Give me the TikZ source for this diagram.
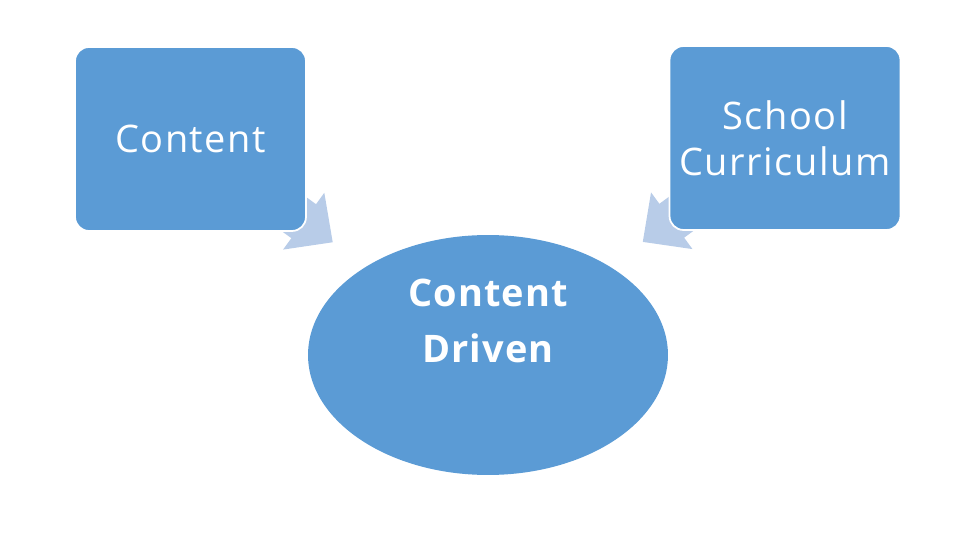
\documentclass[tikz,border=0pt]{standalone}
\usepackage{fontspec}
\setmainfont{Open Sans}
\usetikzlibrary{arrows.meta,backgrounds,shapes.geometric}
\definecolor{boxblue}{HTML}{5B9BD5}
\definecolor{arrblue}{HTML}{B8CCE8}
\begin{document}
\begin{tikzpicture}[
    x=0.02cm, y=-0.02cm,
    box/.style={draw=white, line width=1pt, fill=boxblue, rounded corners=0.28cm,
      minimum width=4.62cm, minimum height=3.68cm, align=center, text=white,
      font=\fontsize{21.6pt}{26.1pt}\selectfont\addfontfeature{LetterSpace=4}},
    oval/.style={ellipse, fill=boxblue, minimum width=7.2cm, minimum height=4.8cm, inner sep=0pt},
    ovaltxt/.style={align=center, text=white,
      font=\fontsize{21.6pt}{32.3pt}\selectfont\bfseries\addfontfeature{LetterSpace=3}},
    bigarr/.style={arrblue, line width=0.84cm, -{Triangle[width=1.36cm,length=0.72cm]},
      shorten >=0.82cm}
  ]
    \useasboundingbox (0,0) rectangle (960,540);
    \node[box] (content) at (190.5,139) {Content};
    \node[box] (school)  at (785,138)   {School\\Curriculum};
    \node[oval] (driven) at (488,355) {};
    \node[ovaltxt] (drivenlbl) at (488,321) {Content\\Driven};

    \begin{pgfonlayer}{background}
      \draw[bigarr] (content.center) -- (driven);
      \draw[bigarr] (school.center) -- (driven);
    \end{pgfonlayer}
  \end{tikzpicture}
\end{document}
